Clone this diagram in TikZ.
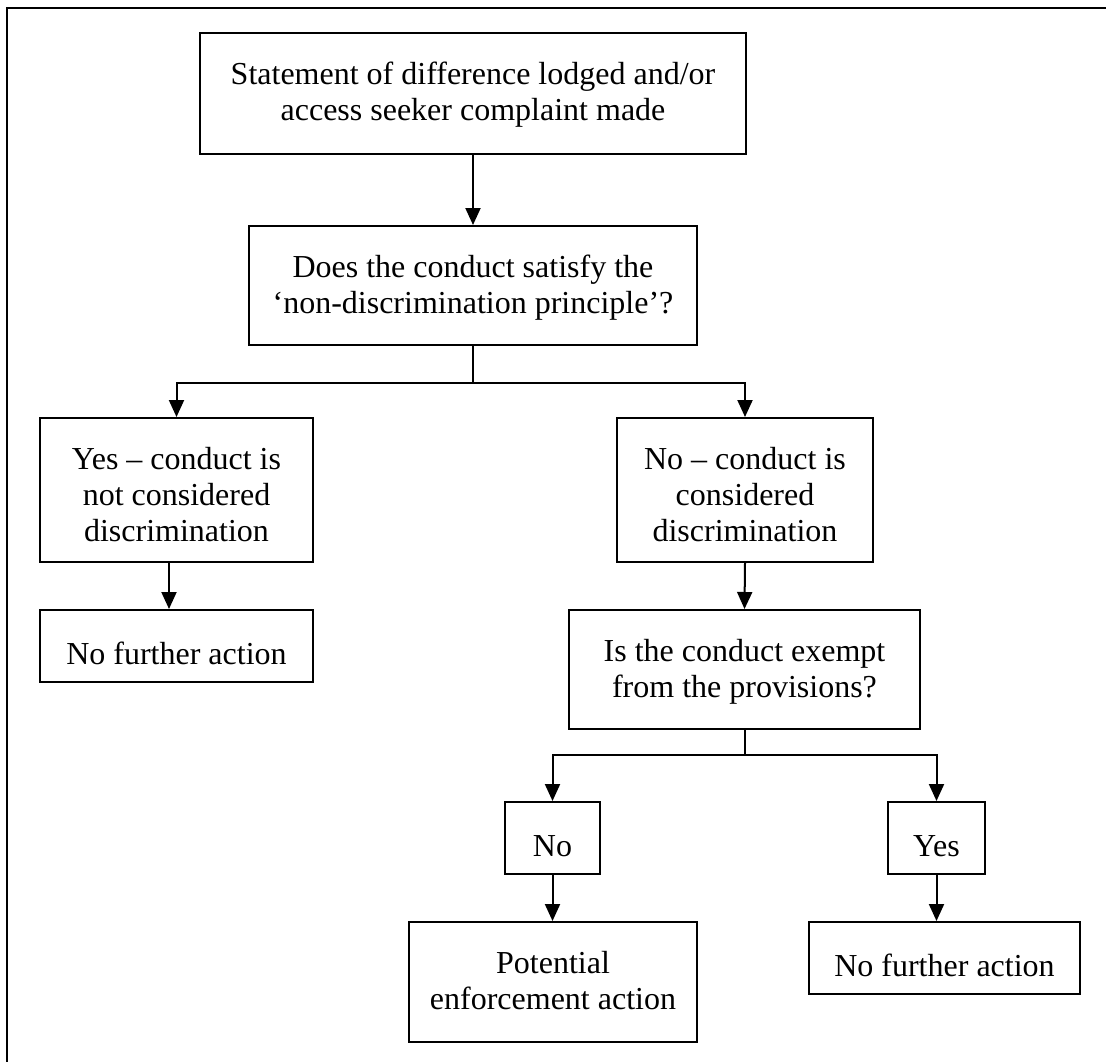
\documentclass[tikz,border=0pt]{standalone}
\usepackage{fontspec}
\setmainfont{Liberation Serif}
\usetikzlibrary{arrows.meta}
\begin{document}
\begin{tikzpicture}[x=1pt,y=-1pt,
  box/.style={draw,line width=2pt,inner sep=0pt},
  txt/.style={inner sep=0pt,align=center,anchor=north,
    font=\fontsize{32}{36}\selectfont,
    execute at begin node={\rule{0pt}{25pt}}},
  arr/.style={line width=2pt,-{Triangle[length=17pt,width=15pt]}},
  ln/.style={line width=2pt}]
\useasboundingbox (0,0) rectangle (1106,1061);
\begin{scope}
\clip (0,0) rectangle (1106,1061);
\draw[line width=2.6pt] (7,8) rectangle (1120,1075);
\end{scope}
% boxes
\node[box,minimum width=546pt,minimum height=121pt] (b1) at (473,93.5) {};
\node[box,minimum width=448pt,minimum height=119pt] (b2) at (473,285.5) {};
\node[box,minimum width=273pt,minimum height=144pt] (b3) at (176.5,490) {};
\node[box,minimum width=273pt,minimum height=72pt] (b4) at (176.5,646) {};
\node[box,minimum width=256pt,minimum height=144pt] (b5) at (745,490) {};
\node[box,minimum width=351pt,minimum height=119pt] (b6) at (744.5,669.5) {};
\node[box,minimum width=95pt,minimum height=72pt] (no) at (552.5,838) {};
\node[box,minimum width=97pt,minimum height=72pt] (yes) at (936.5,838) {};
\node[box,minimum width=288pt,minimum height=120pt] (pot) at (553,982) {};
\node[box,minimum width=271pt,minimum height=72pt] (nfa) at (944.5,958) {};
% texts (top-aligned, first baseline 55pt below the box top)
\node[txt] (t1) at ([yshift=-30pt]b1.north)
  {Statement of difference lodged and/or\\access seeker complaint made};
\node[txt] (t2) at ([yshift=-30pt]b2.north)
  {Does the conduct satisfy the\\`non-discrimination principle'?};
\node[txt] (t3) at ([yshift=-30pt]b3.north)
  {Yes -- conduct is\\not considered\\discrimination};
\node[txt] (t4) at ([yshift=-30pt]b4.north) {No further action};
\node[txt] (t5) at ([yshift=-30pt]b5.north)
  {No -- conduct is\\considered\\discrimination};
\node[txt] (t6) at ([yshift=-30pt]b6.north)
  {Is the conduct exempt\\from the provisions?};
\node[txt] (tno) at ([yshift=-30pt]no.north) {No};
\node[txt] (tyes) at ([yshift=-30pt]yes.north) {Yes};
\node[txt] (tpot) at ([yshift=-30pt]pot.north) {Potential\\enforcement action};
\node[txt] (tnfa) at ([yshift=-30pt]nfa.north) {No further action};
% connectors
\draw[arr] (b1.south) -- (b2.north);
\draw[ln] (b2.south) -- ++(0,37) coordinate (s1);
\draw[arr] (s1) -| (b3.north);
\draw[arr] (s1) -| (b5.north);
\draw[arr] ([xshift=-7.5pt]b3.south) -- ([xshift=-7.5pt]b4.north);
\draw[arr] (b5.south) -- (b6.north);
\draw[ln] (b6.south) -- ++(0,25) coordinate (s2);
\draw[arr] (s2) -| (no.north);
\draw[arr] (s2) -| (yes.north);
\draw[arr] (no.south) -- (no.south |- pot.north);
\draw[arr] (yes.south) -- (yes.south |- nfa.north);
\end{tikzpicture}
\end{document}
